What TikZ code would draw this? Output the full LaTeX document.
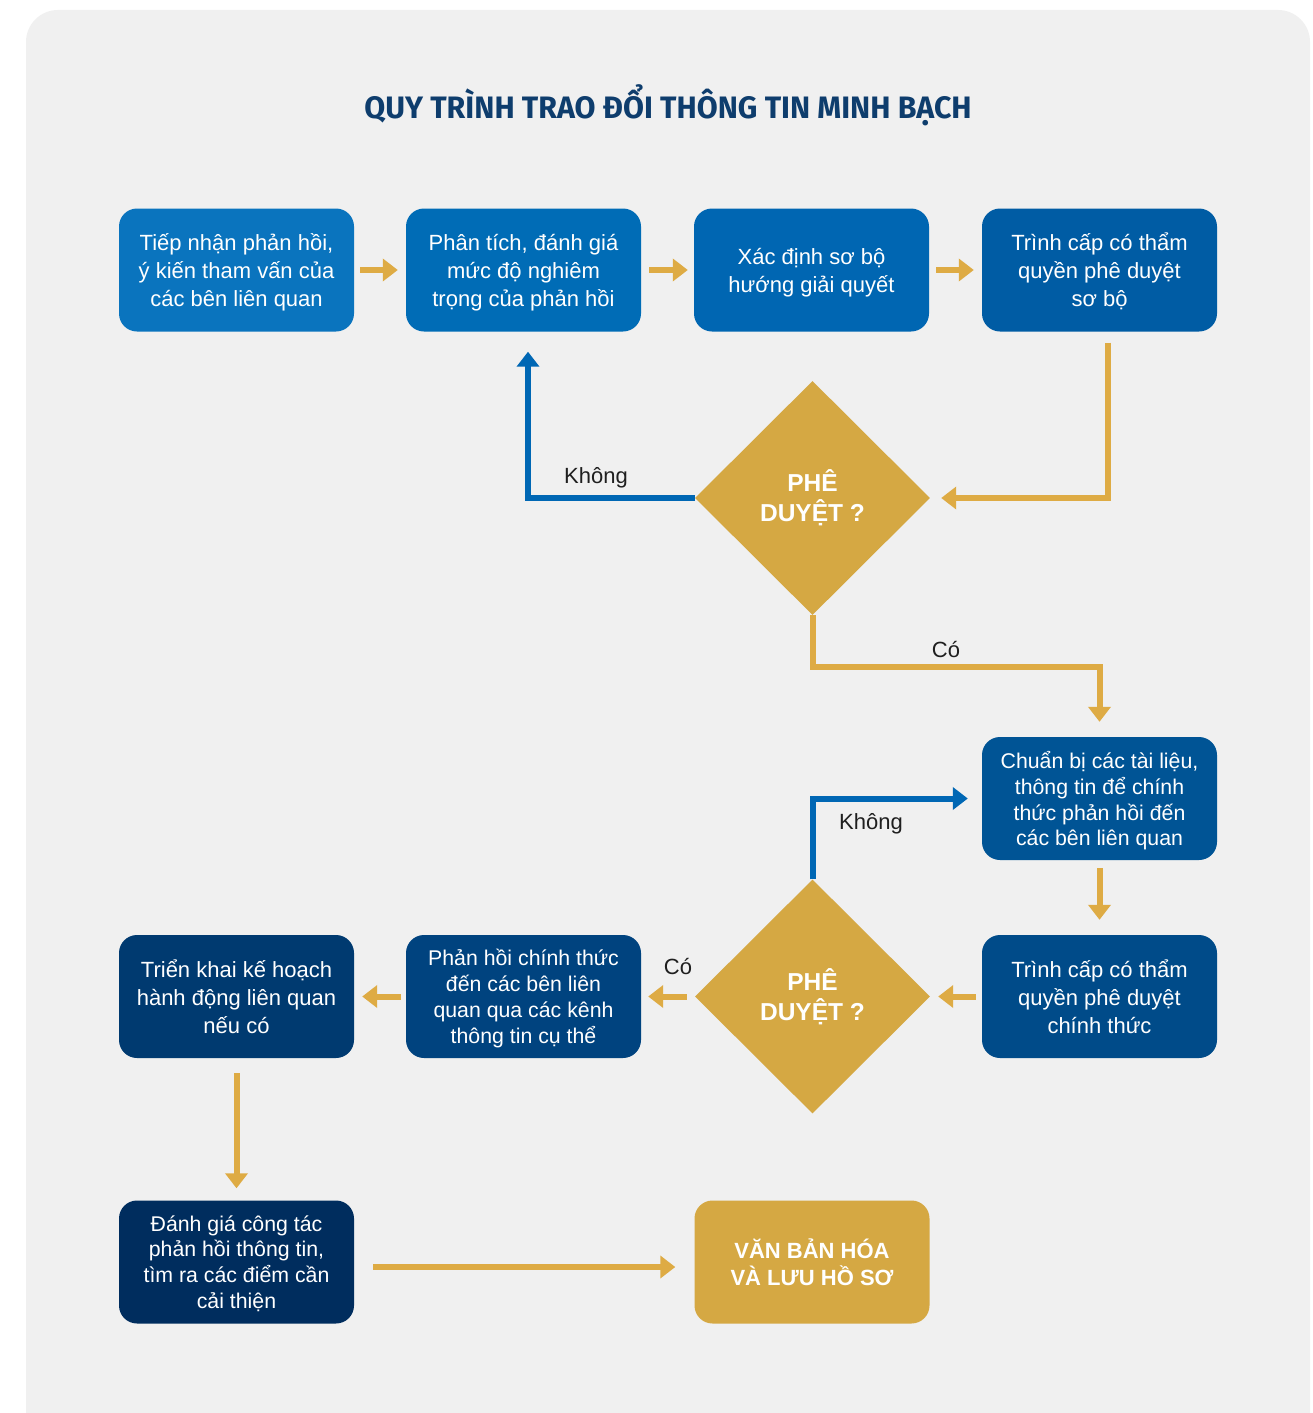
\documentclass[tikz,border=0pt]{standalone}
\usepackage{fontspec}
\setmainfont{Liberation Sans}
\newfontfamily\titlefont[FakeStretch=0.98]{Fira Sans}
\usetikzlibrary{arrows.meta,shapes.geometric,calc}

\definecolor{panel}{HTML}{F0F0F0}
\definecolor{titleblue}{HTML}{0E3D6D}
\definecolor{gold}{HTML}{D5A843}
\definecolor{arrowgold}{HTML}{DEAB44}
\definecolor{linkblue}{HTML}{0067B4}
\definecolor{bA}{HTML}{0A74BE}
\definecolor{bB}{HTML}{006CB6}
\definecolor{bC}{HTML}{0066B2}
\definecolor{bD}{HTML}{005CA4}
\definecolor{bE}{HTML}{005495}
\definecolor{bF}{HTML}{004B89}
\definecolor{bG}{HTML}{00437F}
\definecolor{bH}{HTML}{003A70}
\definecolor{bI}{HTML}{002D5E}

\tikzset{
  stepbox/.style={rectangle, rounded corners=18pt, minimum width=235pt,
    minimum height=123pt, inner sep=0pt, text=white, align=center,
    text depth=0pt, font=\fontsize{22}{28}\selectfont},
  stepbox4/.style={stepbox, font=\fontsize{21.3}{25.8}\selectfont},
  decision/.style={diamond, fill=gold, minimum width=235pt, minimum height=234pt,
    inner sep=0pt, text=white, align=center,
    font=\fontsize{24.5}{30}\selectfont\bfseries},
  garrow/.style={draw=arrowgold, line width=6pt,
    -{Triangle[width=22pt,length=15pt]}},
  barrow/.style={draw=linkblue, line width=6pt,
    -{Triangle[width=22pt,length=15pt]}},
  lbl/.style={font=\fontsize{22}{26}\selectfont, text=black!88, inner sep=0pt},
}

\begin{document}
\begin{tikzpicture}[x=1pt,y=-1pt]
  \useasboundingbox (0,0) rectangle (1313,1413);
  \clip (0,0) rectangle (1313,1413);
  \fill[white] (0,0) rectangle (1313,1413);
  \fill[panel, rounded corners=32pt] (26,10) rectangle (1310,1445);

  \node[text=titleblue, font=\titlefont\bfseries\fontsize{31}{36}\selectfont] (title)
    at (668,105) {QUY TRÌNH TRAO ĐỔI THÔNG TIN MINH BẠCH};

  % first row of steps
  \node[stepbox, fill=bA] (b1) at (236.5,270) {Tiếp nhận phản hồi,\\ý kiến tham vấn của\\các bên liên quan};
  \node[stepbox, fill=bB] (b2) at (523.5,270) {Phân tích, đánh giá\\mức độ nghiêm\\trọng của phản hồi};
  \node[stepbox, fill=bC] (b3) at (811.5,270) {Xác định sơ bộ\\hướng giải quyết};
  \node[stepbox, fill=bD] (b4) at (1099.5,270) {Trình cấp có thẩm\\quyền phê duyệt\\sơ bộ};

  % first approval
  \node[decision] (d1) at (812.5,498) {PHÊ\\DUYỆT ?};

  % right column
  \node[stepbox4, fill=bE] (b5) at (1099.5,798.5) {Chuẩn bị các tài liệu,\\thông tin để chính\\thức phản hồi đến\\các bên liên quan};
  \node[stepbox, fill=bF] (b6) at (1099.5,996.5) {Trình cấp có thẩm\\quyền phê duyệt\\chính thức};

  % second approval
  \node[decision] (d2) at (812.5,996.5) {PHÊ\\DUYỆT ?};

  % lower rows
  \node[stepbox4, fill=bG] (b7) at (523.5,996.5) {Phản hồi chính thức\\đến các bên liên\\quan qua các kênh\\thông tin cụ thể};
  \node[stepbox, fill=bH] (b8) at (236.5,996.5) {Triển khai kế hoạch\\hành động liên quan\\nếu có};
  \node[stepbox4, fill=bI] (b9) at (236.5,1262) {Đánh giá công tác\\phản hồi thông tin,\\tìm ra các điểm cần\\cải thiện};
  \node[stepbox, fill=gold, font=\fontsize{22}{27}\selectfont\bfseries] (b10) at (812,1262) {VĂN BẢN HÓA\\VÀ LƯU HỒ SƠ};

  % connectors
  \draw[garrow, shorten <=6pt, shorten >=8pt] (b1.east) -- (b2.west);
  \draw[garrow, shorten <=8pt, shorten >=6pt] (b2.east) -- (b3.west);
  \draw[garrow, shorten <=7pt, shorten >=8pt] (b3.east) -- (b4.west);
  \draw[garrow, shorten <=11pt, shorten >=11pt] ([xshift=8.5pt]b4.south) |- (d1.east);
  \draw[barrow, shorten >=20pt] (d1.west) -| ([xshift=4.5pt]b2.south);
  \draw[garrow, shorten >=15pt] (d1.south) -- ($(d1.south)+(0,52)$) -| (b5.north);
  \draw[garrow, shorten <=8pt, shorten >=15pt] (b5.south) -- (b6.north);
  \draw[garrow, shorten <=6pt, shorten >=8pt] (b6.west) -- (d2.east);
  \draw[barrow, shorten >=14pt] (d2.north) |- (b5.west);
  \draw[garrow, shorten <=8pt, shorten >=7pt] (d2.west) -- (b7.east);
  \draw[garrow, shorten <=5pt, shorten >=8pt] (b7.west) -- (b8.east);
  \draw[garrow, shorten <=15pt, shorten >=12pt] (b8.south) -- (b9.north);
  \draw[garrow, shorten <=19pt, shorten >=19pt] ([yshift=-5pt]b9.east) -- ([yshift=-5pt]b10.west);

  % connector labels
  \node[lbl] (l1) at (596,478) {Không};
  \node[lbl] (l2) at (946,649) {Có};
  \node[lbl] (l3) at (871,824) {Không};
  \node[lbl] (l4) at (678,966) {Có};
\end{tikzpicture}
\end{document}
